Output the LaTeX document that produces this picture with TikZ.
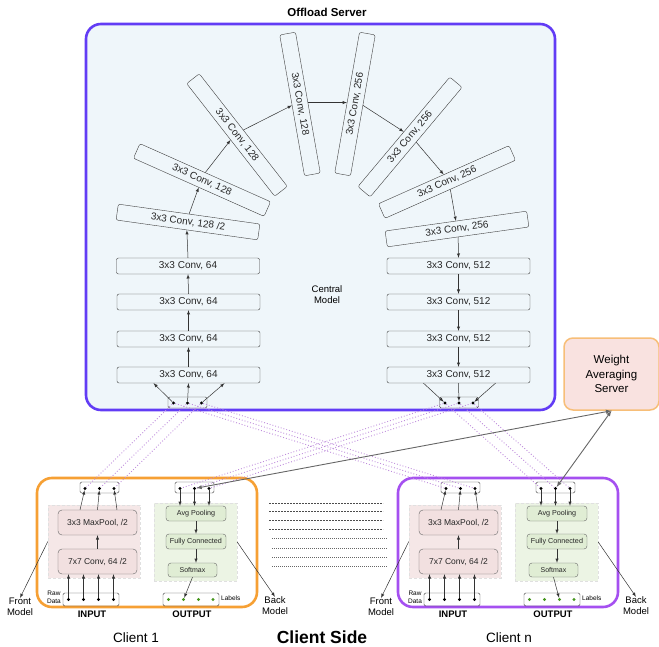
\documentclass[tikz,border=0pt]{standalone}
\usepackage{fontspec}
\setmainfont{Liberation Sans}
\usepackage{xcolor}
\usepackage{tikz}
\usetikzlibrary{calc, positioning}

\definecolor{serverblue}{RGB}{98,60,245}
\definecolor{serverbg}{RGB}{239,246,250}
\definecolor{clientorange}{RGB}{246,160,52}
\definecolor{clientpurple}{RGB}{165,80,240}
\definecolor{wasfill}{RGB}{249,226,224}
\definecolor{wasline}{RGB}{247,190,120}
\definecolor{frontbg}{RGB}{245,231,231}
\definecolor{frontbox}{RGB}{242,224,224}
\definecolor{backbg}{RGB}{236,244,228}
\definecolor{backbox}{RGB}{224,237,212}
\definecolor{linkviolet}{RGB}{190,140,220}
\definecolor{labelgreen}{RGB}{70,150,30}

\tikzset{
    conv/.style={draw=black!75, rounded corners=2pt, minimum width=143pt, minimum height=16pt,
        inner sep=0pt, text=black!85, font=\fontsize{10}{12}\selectfont},
    port/.style={draw=black!75, rounded corners=1.5pt, minimum width=39pt, minimum height=11pt, inner sep=0pt},
    bead/.style={circle, fill=black, inner sep=0pt, minimum size=3.2pt},
    stage/.style={draw=black!60, rounded corners=4pt, inner sep=0pt, text=black!85},
    zone/.style={draw=black!12, densely dashed, inner sep=0pt},
    flow/.style={->, black!80, line width=0.5pt},
    relay/.style={linkviolet, dotted, line width=0.9pt},
    tinytext/.style={font=\fontsize{6.5}{8}\selectfont, align=center, inner sep=0pt},
    sidetext/.style={font=\fontsize{9.5}{11}\selectfont, align=center, inner sep=0pt},
    boldtext/.style={font=\bfseries\fontsize{9.5}{11}\selectfont, inner sep=0pt},
}

\begin{document}
\begin{tikzpicture}[>=latex, x=1pt, y=-1pt]
    \useasboundingbox (0,0) rectangle (659,647);

    % 1. Offload server
    \node[draw=serverblue, fill=serverbg, line width=2.6pt, rounded corners=15pt,
          minimum width=469pt, minimum height=386pt] (server) at (320.5,217) {};
    \node[font=\bfseries\fontsize{11.5}{13}\selectfont] (servertitle) at (327,12) {Offload Server};
    \node[sidetext] (central) at (327,295) {Central\\Model};

    % 2. Left column (going up)
    \node[conv] (l1) at (188.5,375) {3x3 Conv, 64};
    \node[conv] (l2) at (188.5,339) {3x3 Conv, 64};
    \node[conv] (l3) at (188.5,302) {3x3 Conv, 64};
    \node[conv] (l4) at (188,266) {3x3 Conv, 64};
    \node[conv, rotate=-8] (l5) at (188,222) {3x3 Conv, 128 /2};
    \node[conv, rotate=-24] (l6) at (202,180) {3x3 Conv, 128};
    \node[conv, rotate=-52] (l7) at (237,135) {3x3 Conv, 128};
    \node[conv, rotate=-80] (l8) at (300,104) {3x3 Conv, 128};

    % 3. Right column (going down)
    \node[conv, rotate=80] (r8) at (355,104) {3x3 Conv, 256};
    \node[conv, rotate=50] (r7) at (410,137) {3x3 Conv, 256};
    \node[conv, rotate=24] (r6) at (447,182) {3x3 Conv, 256};
    \node[conv, rotate=8] (r5) at (457,229) {3x3 Conv, 256};
    \node[conv] (r4) at (458.5,266) {3x3 Conv, 512};
    \node[conv] (r3) at (458.5,302) {3x3 Conv, 512};
    \node[conv] (r2) at (458.5,339) {3x3 Conv, 512};
    \node[conv] (r1) at (458.5,375) {3x3 Conv, 512};

    \foreach \a/\b in {l1/l2, l2/l3, l3/l4, l4/l5, l5/l6, l6/l7, l7/l8}
        \draw[flow] (\a.north) -- (\b.south);
    \draw[flow] (l8.north) -- (r8.north);
    \foreach \a/\b in {r8/r7, r7/r6, r6/r5, r5/r4, r4/r3, r3/r2, r2/r1}
        \draw[flow] (\a.south) -- (\b.north);

    % 4. Server ports
    \node[port] (sport1) at (187.5,402.5) {};
    \node[port] (sport2) at (459,402.5) {};
    \foreach \i/\dx in {1/-14, 2/0, 3/14} {
        \node[bead] (sl\i) at (187.5+\dx,403) {};
        \node[bead] (sr\i) at (459+\dx,403) {};
    }
    \draw[flow] (sl1) -- ([xshift=-35pt]l1.south);
    \draw[flow] (sl2) -- (l1.south);
    \draw[flow] (sl3) -- ([xshift=36pt]l1.south);
    \draw[flow] ([xshift=-35pt]r1.south) -- (sr1);
    \draw[flow] (r1.south) -- (sr2);
    \draw[flow] ([xshift=37pt]r1.south) -- (sr3);

    % 5. Clients
    \foreach \cx/\cid/\ccol/\lab in {0/a/clientorange/2, 361/b/clientpurple/3} {
      \begin{scope}[xshift=\cx pt]
        \node[draw=\ccol, line width=2.6pt, rounded corners=15pt,
              minimum width=220pt, minimum height=129pt] (\cid-box) at (147,542.5) {};
        \node[zone, fill=frontbg, minimum width=92pt, minimum height=73pt] (\cid-front) at (94,541.5) {};
        \node[zone, fill=backbg, minimum width=83pt, minimum height=78pt] (\cid-back) at (195.5,542) {};

        \node[stage, fill=frontbox, minimum width=79pt, minimum height=25pt,
              font=\fontsize{8.5}{10}\selectfont] (\cid-pool) at (97.5,522.5) {3x3 MaxPool, /2};
        \node[stage, fill=frontbox, minimum width=79pt, minimum height=25pt,
              font=\fontsize{8.5}{10}\selectfont] (\cid-conv) at (97.5,561.5) {7x7 Conv, 64 /2};
        \node[stage, fill=backbox, rounded corners=3pt, minimum width=60pt, minimum height=15pt,
              font=\fontsize{7.2}{9}\selectfont] (\cid-avg) at (196,513.5) {Avg Pooling};
        \node[stage, fill=backbox, rounded corners=3pt, minimum width=60pt, minimum height=15pt,
              font=\fontsize{7.2}{9}\selectfont] (\cid-fc) at (196,541.5) {Fully Connected};
        \node[stage, fill=backbox, rounded corners=3pt, minimum width=49pt, minimum height=14pt,
              font=\fontsize{7}{9}\selectfont] (\cid-soft) at (192.5,570) {Softmax};

        \node[port] (\cid-lport) at (99.5,487.5) {};
        \node[port] (\cid-rport) at (194.5,487.5) {};
        \node[port, minimum width=56pt, minimum height=13pt] (\cid-raw) at (91,599.5) {};
        \node[port, minimum width=56pt, minimum height=13pt] (\cid-out) at (191,599.5) {};
        \foreach \i/\px in {1/85, 2/99.5, 3/114}
            \node[bead] (\cid-lp\i) at (\px,488.5) {};
        \foreach \i/\px in {1/180, 2/194.5, 3/209}
            \node[bead] (\cid-rp\i) at (\px,488.5) {};
        \foreach \i/\px in {1/68.5, 2/83.5, 3/98.5, 4/113.5} {
            \node[bead] (\cid-rd\i) at (\px,599.5) {};
            \draw[flow] (\cid-rd\i) -- (\cid-rd\i |- \cid-conv.south);
        }
        \foreach \i/\px in {1/168.5, 2/183.5, 3/198.5, 4/213}
            \node[bead, fill=labelgreen] (\cid-ld\i) at (\px,599.5) {};

        \draw[flow] (\cid-conv.north) -- (\cid-pool.south);
        \draw[flow] ([xshift=-17.5pt]\cid-pool.north) -- (\cid-lp1);
        \draw[flow] (\cid-pool.north) -- (\cid-lp2);
        \draw[flow] ([xshift=19.5pt]\cid-pool.north) -- (\cid-lp3);
        \foreach \i in {1,2,3}
            \draw[flow] (\cid-rp\i) -- (\cid-rp\i |- \cid-avg.north);
        \draw[flow] (\cid-avg.south) -- (\cid-fc.north);
        \draw[flow] (\cid-fc.south) -- (\cid-fc.south |- \cid-soft.north);
        \draw[flow] (\cid-soft.south) -- (\cid-ld\lab);

        \node[tinytext] (\cid-rawlbl) at (54,597) {Raw\\Data};
        \node[tinytext, anchor=west] (\cid-lbl) at (221,598.5) {Labels};
        \node[boldtext] (\cid-in) at (92,614) {INPUT};
        \node[boldtext] (\cid-outlbl) at (192,614) {OUTPUT};

        \node[sidetext] (\cid-frontlbl) at (20,607) {Front\\Model};
        \node[sidetext] (\cid-backlbl) at (275,606) {Back\\Model};
        \draw[flow] (\cid-front.west) -- (\cid-frontlbl.north);
        \draw[flow] (\cid-back.east) -- (\cid-backlbl.north);
      \end{scope}
    }
    \node[font=\fontsize{13.5}{16}\selectfont] (client1) at (136,638) {Client 1};
    \node[font=\fontsize{13.5}{16}\selectfont] (clientn) at (509,638) {Client n};
    \node[font=\bfseries\fontsize{17.5}{20}\selectfont] (clientside) at (322,637) {Client Side};

    % 6. Dashed lines between the clients
    \foreach \yy in {503,511,520,529}
        \draw[black!70, dash pattern=on 2pt off 1pt, line width=0.5pt] (269,\yy) -- (383,\yy);
    \foreach \yy in {538,548,557,566}
        \draw[black!60, dash pattern=on 1pt off 1pt, line width=0.5pt] (272,\yy) -- (387,\yy);

    % 7. Split links between server and clients
    \foreach \i in {1,2,3} {
        \draw[relay] (sl\i) -- (a-lp\i);
        \draw[relay] (sl\i) -- (b-lp\i);
        \draw[relay] (sr\i) -- (a-rp\i);
        \draw[relay] (sr\i) -- (b-rp\i);
    }

    % 8. Weight averaging server
    \node[draw=wasline, fill=wasfill, line width=1.5pt, rounded corners=9pt,
          minimum width=95pt, minimum height=72pt, align=center,
          font=\fontsize{11.5}{14.5}\selectfont] (was) at (611.5,374) {Weight\\Averaging\\Server};
    \draw[<->, black!60, line width=0.9pt] (a-rp2) -- (was.south);
    \draw[<->, black!60, line width=0.9pt] (b-rp2) -- (was.south);
\end{tikzpicture}
\end{document}
